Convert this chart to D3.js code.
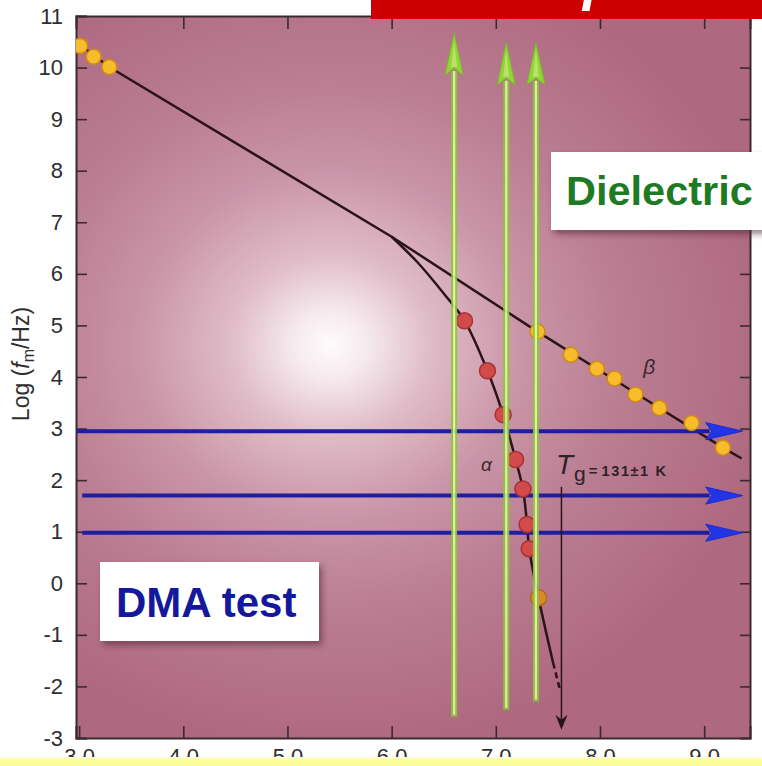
<!DOCTYPE html>
<html>
<head>
<meta charset="utf-8">
<script src="https://cdn.jsdelivr.net/npm/d3@7"></script>
<style>
  html, body { margin: 0; padding: 0; background: #ffffff; }
  svg { display: block; }
  text { font-family: "Liberation Sans", Arial, sans-serif; }
</style>
</head>
<body>
<svg id="chart" width="762" height="766"></svg>
<script>
// Relaxation map: log of peak frequency vs inverse temperature
const xTicks = [3, 4, 5, 6, 7, 8, 9];
const yTicks = [-3, -2, -1, 0, 1, 2, 3, 4, 5, 6, 7, 8, 9, 10, 11];

// beta relaxation (Arrhenius) measured points and fitted line
const betaPoints = [[3.01, 10.42], [3.14, 10.21], [3.29, 10.01], [7.40, 4.88], [7.72, 4.43],
                    [7.97, 4.16], [8.14, 3.97], [8.34, 3.66], [8.57, 3.40], [8.88, 3.11], [9.18, 2.63]];
const betaLine = [[3.00, 10.45], [3.29, 10.01], [6.00, 6.72], [7.40, 4.88], [7.97, 4.16],
                  [8.57, 3.40], [9.18, 2.63], [9.36, 2.42]];

// alpha relaxation (VFT) measured points, fitted curve and its extrapolation to Tg
const alphaPoints = [[6.70, 5.09], [6.92, 4.12], [7.07, 3.27], [7.19, 2.40], [7.26, 1.83],
                     [7.30, 1.14], [7.32, 0.67], [7.41, -0.28]];
const alphaLine = [[6.00, 6.72], [6.25, 6.22], [6.50, 5.62], [6.70, 5.09], [6.92, 4.12], [7.07, 3.27],
                   [7.19, 2.40], [7.26, 1.83], [7.30, 1.14], [7.32, 0.67], [7.41, -0.28], [7.55, -1.54]];
const alphaExtrap = [[7.55, -1.54], [7.615, -2.06]];

// isothermal frequency scans (dielectric) and isochronal temperature scans (DMA)
const isothermX = [6.60, 7.10, 7.385];
const isothermTop = [10.67, 10.48, 10.48];
const isothermBottom = [-2.59, -2.45, -2.29];
const isochronF = [2.95, 1.70, 0.98];
const isochronStart = [2.97, 3.03, 3.03];
const isochronEnd = 9.37;

// glass transition marker
const tgX = 7.63, tgTop = 1.87, tgBottom = -2.84;

const svg = d3.select("#chart");
const W = 762, H = 766;
const mLeft = 76, mRight = 750, mTop = 16, mBottom = 738;

const x = d3.scaleLinear().domain([2.97, 9.44]).range([mLeft, mRight]);
const y = d3.scaleLinear().domain([-3, 11]).range([mBottom, mTop]);

const defs = svg.append("defs");

const bg = defs.append("radialGradient").attr("id", "bgGlow")
  .attr("gradientUnits", "userSpaceOnUse")
  .attr("cx", 330).attr("cy", 345).attr("r", 430)
  .attr("gradientTransform", "translate(330,345) scale(1.05,0.95) translate(-330,-345)");
[[0, "#fefbfc"], [0.08, "#f6ebef"], [0.22, "#e0bcc8"], [0.42, "#ca95a8"],
 [0.65, "#ba7d92"], [1, "#ae6880"]].forEach(([o, c]) =>
  bg.append("stop").attr("offset", o).attr("stop-color", c));

const blur2 = defs.append("filter").attr("id", "blur2")
  .attr("x", "-50%").attr("y", "-50%").attr("width", "200%").attr("height", "200%");
blur2.append("feGaussianBlur").attr("stdDeviation", 2.5);

const blur1 = defs.append("filter").attr("id", "blur1")
  .attr("x", "-50%").attr("y", "-50%").attr("width", "200%").attr("height", "200%");
blur1.append("feGaussianBlur").attr("stdDeviation", 0.6);

const shadow = defs.append("filter").attr("id", "boxShadow")
  .attr("x", "-20%").attr("y", "-30%").attr("width", "140%").attr("height", "160%");
shadow.append("feDropShadow").attr("dx", 3).attr("dy", 4).attr("stdDeviation", 3)
  .attr("flood-color", "#4a1a2a").attr("flood-opacity", 0.55);

defs.append("clipPath").attr("id", "plotClip").append("rect")
  .attr("x", mLeft).attr("y", mTop).attr("width", mRight - mLeft).attr("height", mBottom - mTop);
defs.append("clipPath").attr("id", "bannerClip").append("rect")
  .attr("x", 371).attr("y", 0).attr("width", W - 371).attr("height", 19);

const strip = defs.append("linearGradient").attr("id", "stripFill")
  .attr("x1", 0).attr("x2", 0).attr("y1", 0).attr("y2", 1);
strip.append("stop").attr("offset", 0).attr("stop-color", "#fefee0");
strip.append("stop").attr("offset", 0.35).attr("stop-color", "#fdfd9c");
strip.append("stop").attr("offset", 1).attr("stop-color", "#fcfc96");

// background
svg.append("rect").attr("width", W).attr("height", H).attr("fill", "#ffffff");
svg.append("rect").attr("x", mLeft).attr("y", mTop)
  .attr("width", mRight - mLeft).attr("height", mBottom - mTop).attr("fill", "url(#bgGlow)");

// axes: ticks pointing inward on all four sides
const tickColor = "#3a2a30";
const hyphenInt = d => (d < 0 ? "-" : "") + Math.abs(d);
const gLeft = svg.append("g").attr("transform", `translate(${mLeft},0)`)
  .call(d3.axisLeft(y).tickValues(yTicks).tickSize(-11).tickPadding(13).tickFormat(hyphenInt));
const gBottom = svg.append("g").attr("transform", `translate(0,${mBottom})`)
  .call(d3.axisBottom(x).tickValues(xTicks).tickSize(-12).tickPadding(10).tickFormat(d3.format(".1f")));
const gTop = svg.append("g").attr("transform", `translate(0,${mTop})`)
  .call(d3.axisTop(x).tickValues(xTicks.slice(1)).tickSize(-13).tickFormat(""));
const gRight = svg.append("g").attr("transform", `translate(${mRight},0)`)
  .call(d3.axisRight(y).tickValues(yTicks.slice(1, -1)).tickSize(-10).tickFormat(""));
[gLeft, gBottom, gTop, gRight].forEach(g => {
  g.select(".domain").attr("stroke", tickColor).attr("stroke-width", 2);
  g.selectAll(".tick line").attr("stroke", tickColor).attr("stroke-width", 1.6);
  g.selectAll(".tick text").attr("fill", "#2e2e2e").attr("font-size", 22);
});

// y-axis title
svg.append("text")
  .attr("transform", "translate(29,364) rotate(-90)")
  .attr("text-anchor", "middle").attr("font-size", 23).attr("fill", "#2e2e2e")
  .call(t => {
    t.append("tspan").text("Log (");
    t.append("tspan").attr("font-style", "italic").text("f");
    t.append("tspan").attr("font-size", 16).attr("dy", 5).text("m");
    t.append("tspan").attr("dy", -5).text("/Hz)");
  });

const plot = svg.append("g").attr("clip-path", "url(#plotClip)");
const line = d3.line().x(d => x(d[0])).y(d => y(d[1]));
const smooth = d3.line().x(d => x(d[0])).y(d => y(d[1])).curve(d3.curveCatmullRom.alpha(0.5));

// fitted curves
plot.append("path").attr("d", line(betaLine))
  .attr("fill", "none").attr("stroke", "#2a1418").attr("stroke-width", 2.5);
plot.append("path").attr("d", smooth(alphaLine))
  .attr("fill", "none").attr("stroke", "#2a1418").attr("stroke-width", 2.5);
plot.append("path").attr("d", line(alphaExtrap))
  .attr("fill", "none").attr("stroke", "#2a1418").attr("stroke-width", 2.5)
  .attr("stroke-dasharray", "6,4");

// isochronal scans (horizontal blue arrows)
const headLen = 37, headHalf = 8.5;
isochronF.forEach((f, i) => {
  const yy = y(f), x0 = x(isochronStart[i]), xt = x(isochronEnd);
  plot.append("line").attr("x1", x0).attr("x2", xt - headLen + 4).attr("y1", yy + 1).attr("y2", yy + 1)
    .attr("stroke", "#7070d8").attr("stroke-width", 7).attr("opacity", 0.55).attr("filter", "url(#blur2)");
  plot.append("line").attr("x1", x0).attr("x2", xt - headLen + 4).attr("y1", yy).attr("y2", yy)
    .attr("stroke", "#1e1e9e").attr("stroke-width", 4);
  plot.append("path")
    .attr("d", `M${xt},${yy} L${xt - headLen},${yy - headHalf} L${xt - headLen + 6},${yy} L${xt - headLen},${yy + headHalf} Z`)
    .attr("fill", "#2236e6").attr("stroke", "#1a2ad0").attr("stroke-width", 1).attr("filter", "url(#blur1)");
});

// measured points
plot.selectAll("circle.beta").data(betaPoints).join("circle").attr("class", "beta")
  .attr("cx", d => x(d[0])).attr("cy", d => y(d[1])).attr("r", 7.5)
  .attr("fill", "#f6bc2c").attr("stroke", "#cf8a16").attr("stroke-width", 1.5);
plot.selectAll("circle.alpha").data(alphaPoints).join("circle").attr("class", "alpha")
  .attr("cx", d => x(d[0])).attr("cy", d => y(d[1])).attr("r", 8)
  .attr("fill", (d, i) => i === alphaPoints.length - 1 ? "#d88a2c" : "#d24a4a")
  .attr("stroke", (d, i) => i === alphaPoints.length - 1 ? "#b06a1c" : "#a83232").attr("stroke-width", 1.5);

// isothermal scans (vertical green arrows)
const gHead = 42, gHalf = 9;
isothermX.forEach((v, i) => {
  const xx = x(v), yt = y(isothermTop[i]), yb = y(isothermBottom[i]);
  plot.append("line").attr("x1", xx + 4).attr("x2", xx + 4).attr("y1", yt + 10).attr("y2", yb + 4)
    .attr("stroke", "#5a2038").attr("stroke-width", 6).attr("opacity", 0.35).attr("filter", "url(#blur2)");
  plot.append("line").attr("x1", xx - 5).attr("x2", xx - 5).attr("y1", yt + 10).attr("y2", yb)
    .attr("stroke", "#ffffff").attr("stroke-width", 5).attr("opacity", 0.35).attr("filter", "url(#blur2)");
  const ga = plot.append("g").attr("opacity", 0.9);
  ga.append("line").attr("x1", xx).attr("x2", xx).attr("y1", yt + gHead - 4).attr("y2", yb)
    .attr("stroke", "#86c83e").attr("stroke-width", 6);
  ga.append("line").attr("x1", xx).attr("x2", xx).attr("y1", yt + gHead - 4).attr("y2", yb - 2)
    .attr("stroke", "#eaf6a0").attr("stroke-width", 2.2);
  ga.append("path")
    .attr("d", `M${xx},${yt} L${xx - gHalf},${yt + gHead} L${xx},${yt + gHead - 7} L${xx + gHalf},${yt + gHead} Z`)
    .attr("fill", "#8ee030").attr("stroke", "#74c020").attr("stroke-width", 1);
  ga.append("path")
    .attr("d", `M${xx},${yt + 8} L${xx - 3},${yt + gHead - 8} L${xx + 3},${yt + gHead - 8} Z`)
    .attr("fill", "#c8f070").attr("opacity", 0.8);
});

// Tg marker
const tx = x(tgX), ty0 = y(tgTop), ty1 = y(tgBottom);
plot.append("line").attr("x1", tx).attr("x2", tx).attr("y1", ty0).attr("y2", ty1 - 6)
  .attr("stroke", "#2a1418").attr("stroke-width", 1.5);
plot.append("path").attr("d", `M${tx},${ty1} L${tx - 6},${ty1 - 15} L${tx},${ty1 - 10} L${tx + 6},${ty1 - 15} Z`)
  .attr("fill", "#2a1418");

// curve labels
svg.append("text").attr("x", x(8.57) - 16).attr("y", 374).attr("font-size", 21)
  .attr("font-style", "italic").attr("fill", "#3a2a30").attr("font-family", "DejaVu Serif, serif").text("β");
svg.append("text").attr("x", 481).attr("y", 471).attr("font-size", 19)
  .attr("font-style", "italic").attr("fill", "#3a2a30").attr("font-family", "DejaVu Serif, serif").text("α");
svg.append("text").attr("x", 556).attr("y", 474).attr("fill", "#2e2226")
  .call(t => {
    t.append("tspan").attr("font-size", 28).attr("font-style", "italic").text("T");
    t.append("tspan").attr("font-size", 21).attr("dy", 7).attr("dx", 1).text("g");
    t.append("tspan").attr("font-size", 15).attr("font-weight", "bold").attr("dy", -5).attr("dx", 3).text("=");
    t.append("tspan").attr("font-size", 14.5).attr("font-weight", "bold").attr("dx", 4)
      .attr("letter-spacing", 1.6).text("131±1 K");
  });

// method boxes
svg.append("rect").attr("x", 551).attr("y", 152).attr("width", 230).attr("height", 78)
  .attr("fill", "#ffffff").attr("filter", "url(#boxShadow)");
svg.append("text").attr("x", 566).attr("y", 205).attr("font-size", 41.5).attr("font-weight", "bold")
  .attr("fill", "#1f7a24").text("Dielectric");
svg.append("rect").attr("x", 100).attr("y", 562).attr("width", 219).attr("height", 79)
  .attr("fill", "#ffffff").attr("filter", "url(#boxShadow)");
svg.append("text").attr("x", 116).attr("y", 617).attr("font-size", 42).attr("font-weight", "bold")
  .attr("fill", "#14189a").text("DMA test");

// banner strip at top right
svg.append("rect").attr("x", 371).attr("y", 0).attr("width", W - 371).attr("height", 19).attr("fill", "#cc0000");
svg.append("g").attr("clip-path", "url(#bannerClip)")
  .append("text").attr("x", 583).attr("y", -1).attr("font-size", 56)
  .attr("font-weight", "bold").attr("font-style", "italic").attr("fill", "#ffffff").text("p");

// pale strip along the bottom edge
svg.append("rect").attr("x", 0).attr("y", 757).attr("width", W).attr("height", H - 757).attr("fill", "url(#stripFill)");
</script>
</body>
</html>
